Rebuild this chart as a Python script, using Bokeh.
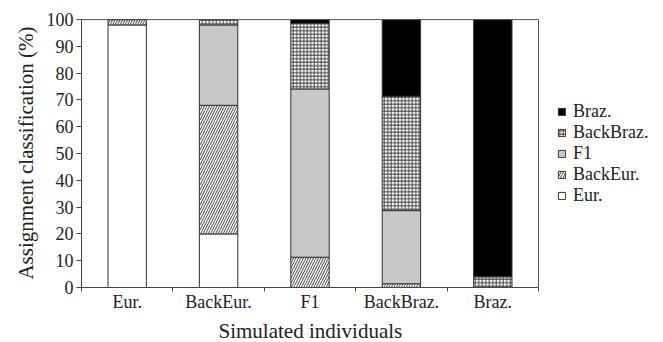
from bokeh.plotting import figure
from bokeh.models import FixedTicker, Legend, LegendItem, Range1d, ColumnDataSource, Title
from bokeh.core.properties import value
from bokeh.transform import stack
from bokeh.embed import file_html
from bokeh.resources import INLINE

categories = ["Eur.", "BackEur.", "F1", "BackBraz.", "Braz."]
series = ["Eur.", "BackEur.", "F1", "BackBraz.", "Braz."]
eur = [98, 20, 0, 0, 0]
backeur = [2, 48, 11.3, 1.4, 0]
f1 = [0, 30, 62.8, 27.3, 0]
backbraz = [0, 2, 24.5, 42.7, 4]
braz = [0, 0, 1.4, 28.6, 96]
y_ticks = [0, 10, 20, 30, 40, 50, 60, 70, 80, 90, 100]

FONT = "Liberation Serif"
N = len(categories)
PLOT_W, FULL_W = 457, 582   # bar area width vs. frame width (frame also hosts the legend)
Y_TOP = 100.4

xs = [i + 0.5 for i in range(N)]
cols = ["s0", "s1", "s2", "s3", "s4"]
src = ColumnDataSource(dict(x=xs, s0=eur, s1=backeur, s2=f1, s3=backbraz, s4=braz))

p = figure(frame_width=FULL_W, frame_height=269, output_backend="svg", toolbar_location=None,
           x_range=Range1d(0, N * FULL_W / PLOT_W), y_range=Range1d(0, Y_TOP),
           min_border_left=81, min_border_right=0, min_border_top=18, min_border_bottom=0)

fills = ["white", "white", "#c8c8c8", "white", "black"]
hatches = [" ", "/", " ", "+", " "]
hatch_scales = [6, 5, 6, 3.5, 6]
renderers = []
for i in range(len(series)):
    r = p.vbar(x="x", width=0.42, bottom=stack(*cols[:i]) if i else 0, top=stack(*cols[:i + 1]),
               source=src, fill_color=fills[i], line_color="#333333", line_width=1,
               hatch_pattern=hatches[i], hatch_color="#444444", hatch_scale=hatch_scales[i],
               hatch_weight=1)
    renderers.append(r)

# top and right border of the plotting box
p.segment(x0=[0, N], y0=[100, 0], x1=[N, N], y1=[100, 100], line_color="#555555", line_width=1)

items = [LegendItem(label=value(series[i]), renderers=[renderers[i]]) for i in reversed(range(len(series)))]
legend = Legend(items=items, location=(476, 81), padding=0, margin=0, spacing=0,
                glyph_width=9, glyph_height=9, label_height=20, label_standoff=7,
                label_text_font=FONT, label_text_font_size="18px", label_text_color="#222222",
                border_line_alpha=0, background_fill_alpha=0)
p.add_layout(legend, "center")

p.xgrid.visible = False
p.ygrid.visible = False
p.outline_line_color = None

p.xaxis.bounds = (0, N)
p.xaxis.ticker = FixedTicker(ticks=xs, minor_ticks=list(range(N + 1)))
p.xaxis.major_label_overrides = {x: c for x, c in zip(xs, categories)}
p.xaxis.major_tick_out = 0
p.xaxis.major_tick_in = 0
p.xaxis.minor_tick_out = 4
p.xaxis.minor_tick_in = 0

p.yaxis.ticker = FixedTicker(ticks=y_ticks)
p.yaxis.bounds = (0, 100)
p.yaxis.major_tick_out = 5
p.yaxis.major_tick_in = 0
p.yaxis.axis_label = "Assignment classification (%)"

for ax in (p.xaxis[0], p.yaxis[0]):
    ax.axis_line_color = "#444444"
    ax.major_tick_line_color = "#444444"
    ax.major_label_text_font = FONT
    ax.major_label_text_font_size = "18px"
    ax.major_label_text_color = "#222222"
    ax.axis_label_text_font = FONT
    ax.axis_label_text_font_size = "21px"
    ax.axis_label_text_font_style = "normal"
    ax.axis_label_text_color = "#222222"
p.xaxis.minor_tick_line_color = "#444444"
p.yaxis.minor_tick_line_color = None
p.xaxis.major_label_standoff = 0
p.yaxis.major_label_standoff = 3
p.yaxis.axis_label_standoff = 6

xtitle = Title(text="Simulated individuals", align="left", offset=137, standoff=4,
               text_font=FONT, text_font_size="21px", text_font_style="normal",
               text_color="#222222")
p.add_layout(xtitle, "below")

open("out.html", "w").write(file_html(p, INLINE))
